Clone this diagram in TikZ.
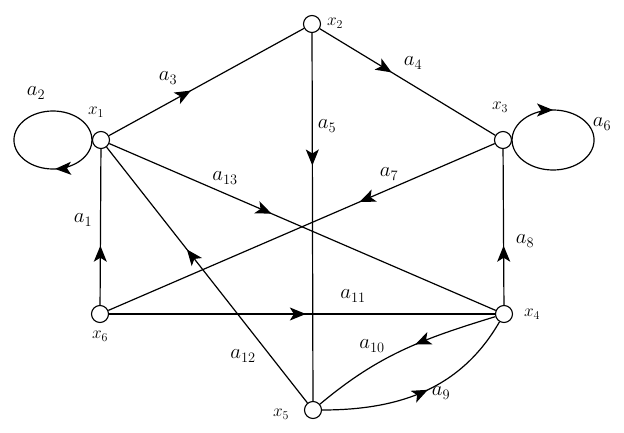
\documentclass[tikz,border=0pt]{standalone}
\usetikzlibrary{arrows.meta,decorations.markings}
\tikzset{
  vtx/.style={circle,draw,line width=1.1pt,minimum size=17pt,inner sep=0pt,fill=white},
  edgeline/.style={line width=1.2pt},
  midarrow/.style={postaction={decorate},decoration={markings,mark=at position #1 with {\arrow{Stealth[length=16pt,width=13pt,inset=4pt]}}}},
  lab/.style={font=\fontsize{20.74}{24}\selectfont, inner sep=0pt},
  xlab/.style={font=\fontsize{17.28}{20}\selectfont, inner sep=0pt},
}
\begin{document}
\begin{tikzpicture}[x=1pt,y=1pt]
\useasboundingbox (0,0) rectangle (624,432);
% vertices
\node[vtx] (x1) at (101,292) {};
\node[vtx] (x2) at (312,408) {};
\node[vtx] (x3) at (503,292) {};
\node[vtx] (x4) at (504,118) {};
\node[vtx] (x5) at (313,22) {};
\node[vtx] (x6) at (100,118) {};
% edges
\draw[edgeline,midarrow=0.38] (x6) -- (x1);
\draw[edgeline,midarrow=0.42] (x1) -- (x2);
\draw[edgeline,midarrow=0.41] (x2) -- (x3);
\draw[edgeline,midarrow=0.36] (x2) -- (x5);
\draw[edgeline,midarrow=0.42] (x1) -- (x4);
\draw[edgeline,midarrow=0.35] (x3) -- (x6);
\draw[edgeline,midarrow=0.38] (x4) -- (x3);
\draw[edgeline,midarrow=0.51] (x6) -- (x4);
\draw[edgeline,midarrow=0.60] (x5) -- (x1);
\draw[edgeline,midarrow=0.43] (x4) to[out=197,in=40] (x5);
\draw[edgeline,midarrow=0.52] (x5) to[out=0,in=240] (x4);
% self loops
\draw[edgeline,midarrow=0.24] (x1.west) arc[start angle=0,end angle=-360,x radius=39,y radius=29];
\draw[edgeline,midarrow=0.25] (x3.east) arc[start angle=180,end angle=-180,x radius=41,y radius=30];
% vertex labels
\node[xlab] (lx1) at (96,320) {$x_1$};
\node[xlab] (lx2) at (335,409) {$x_2$};
\node[xlab] (lx3) at (500,325) {$x_3$};
\node[xlab] (lx4) at (532,118) {$x_4$};
\node[xlab] (lx5) at (281,18) {$x_5$};
\node[xlab] (lx6) at (100,96) {$x_6$};
% edge labels
\node[lab] (la1) at (83,212) {$a_1$};
\node[lab] (la2) at (36,339) {$a_2$};
\node[lab] (la3) at (168,354) {$a_3$};
\node[lab] (la4) at (413,369) {$a_4$};
\node[lab] (la5) at (327,306) {$a_5$};
\node[lab] (la6) at (602,308) {$a_6$};
\node[lab] (la7) at (389,258) {$a_7$};
\node[lab] (la8) at (525,191) {$a_8$};
\node[lab] (la9) at (441,39) {$a_9$};
\node[lab] (la10) at (372,86) {$a_{10}$};
\node[lab] (la11) at (353,136) {$a_{11}$};
\node[lab] (la12) at (243,76) {$a_{12}$};
\node[lab] (la13) at (225,254) {$a_{13}$};
\end{tikzpicture}
\end{document}
